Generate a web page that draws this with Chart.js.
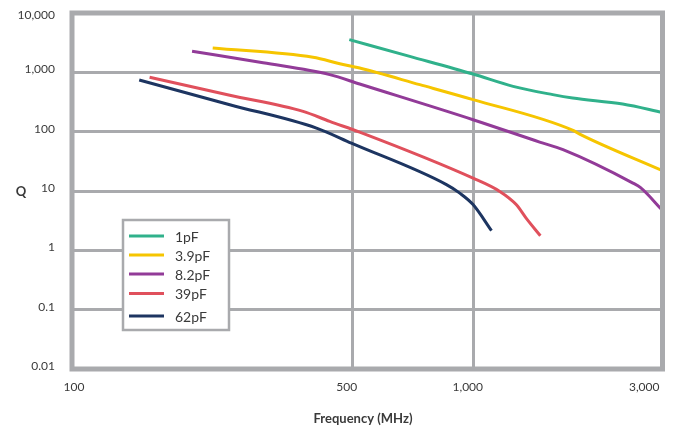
<!DOCTYPE html>
<html>
<head>
<meta charset="utf-8">
<script src="https://cdn.jsdelivr.net/npm/chart.js@4.4.1/dist/chart.umd.min.js"></script>
<style>
  html, body { margin: 0; padding: 0; background: #fff; }
  #wrap { width: 676px; height: 429px; position: relative; }
</style>
</head>
<body>
<div id="wrap"><canvas id="qChart"></canvas></div>
<script>
// Q vs frequency, one pair of arrays per capacitor value
const freq1pF = [490, 693, 996, 1253, 1573, 1763, 2348, 2950];
const q1pF    = [3560, 1860, 936, 580, 421, 369, 292, 211];

const freq3p9pF = [224, 398, 464, 520, 734, 996, 1767, 1835, 2950];
const q3p9pF    = [2570, 1790, 1400, 1180, 620, 347, 105, 91, 22];

const freq8p2pF = [199, 299, 438, 520, 996, 1459, 1668, 2490, 2597, 2950];
const q8p2pF    = [2260, 1450, 915, 635, 159, 66.8, 49.7, 13.6, 11.5, 4.7];

const freq39pF = [156, 247, 376, 438, 520, 996, 1161, 1277, 1350, 1465];
const q39pF    = [824, 412, 220, 149, 98.5, 16.5, 9.85, 5.87, 3.5, 1.76];

const freq62pF = [147, 247, 406, 496, 855, 923, 996, 1107];
const q62pF    = [741, 285, 115, 64, 12.8, 9.2, 5.9, 2.14];

const seriesLabels = ['1pF', '3.9pF', '8.2pF', '39pF', '62pF'];
const seriesColors = ['#30b18b', '#f6c500', '#923b98', '#e0505c', '#1d3561'];

// axis ticks
const xMin = 100, xMax = 2950;
const xGridValues = [500, 1000];
const xTickValues = [100, 500, 1000, 3000];
const xTickLabels = ['100', '500', '1,000', '3,000'];
const yTickValues = [0.01, 0.1, 1, 10, 100, 1000, 10000];
const yTickLabels = ['0.01', '0.1', '1', '10', '100', '1,000', '10,000'];

const GRID = '#a9aaad';
const TEXT = '#3a3a3a';
const FONT = 'Lato, "Open Sans", sans-serif';

function toPoints(xs, ys) {
    return xs.map((x, i) => ({ x: x, y: ys[i] }));
}

const seriesData = [
    toPoints(freq1pF, q1pF),
    toPoints(freq3p9pF, q3p9pF),
    toPoints(freq8p2pF, q8p2pF),
    toPoints(freq39pF, q39pF),
    toPoints(freq62pF, q62pF)
];

// frame, tick labels, axis titles and the boxed legend
const decorPlugin = {
    id: 'decor',
    afterDraw(chart) {
        const ctx = chart.ctx;
        const area = chart.chartArea;
        const xs = chart.scales.x;
        const ys = chart.scales.y;

        ctx.save();
        // thick frame
        ctx.strokeStyle = GRID;
        ctx.lineWidth = 5;
        ctx.strokeRect(area.left, area.top, area.right - area.left, area.bottom - area.top);

        // y tick labels
        ctx.fillStyle = TEXT;
        ctx.font = '12px ' + FONT;
        ctx.textAlign = 'right';
        ctx.textBaseline = 'middle';
        yTickValues.forEach((v, i) => {
            const py = ys.getPixelForValue(v);
            ctx.fillText(yTickLabels[i], 55, Math.max(py - 3, 15));
        });

        // x tick labels
        xTickValues.forEach((v, i) => {
            let px = xs.getPixelForValue(Math.min(v, xMax));
            if (i === 0) {
                ctx.textAlign = 'center';
                px += 2;
            } else if (i === xTickValues.length - 1) {
                ctx.textAlign = 'right';
                px = area.right - 3;
            } else {
                ctx.textAlign = 'center';
                px -= 6;
            }
            ctx.fillText(xTickLabels[i], px, 387);
        });

        // axis titles
        ctx.font = 'bold 13px ' + FONT;
        ctx.textAlign = 'center';
        ctx.fillText('Frequency (MHz)', 363, 419);
        ctx.fillText('Q', 21, 192);

        // legend box
        const lx = 123, ly = 220, lw = 106, lh = 110;
        ctx.fillStyle = '#fff';
        ctx.fillRect(lx, ly, lw, lh);
        ctx.strokeStyle = GRID;
        ctx.lineWidth = 2.5;
        ctx.strokeRect(lx, ly, lw, lh);

        const rows = [236, 255, 274, 293.5, 316];
        ctx.font = '14px ' + FONT;
        ctx.textAlign = 'left';
        chart.data.datasets.forEach((ds, i) => {
            ctx.strokeStyle = ds.borderColor;
            ctx.lineWidth = 3;
            ctx.beginPath();
            ctx.moveTo(129, rows[i]);
            ctx.lineTo(164, rows[i]);
            ctx.stroke();
            ctx.fillStyle = TEXT;
            ctx.fillText(ds.label, 175, rows[i] + 1);
        });
        ctx.restore();
    }
};

new Chart(document.getElementById('qChart'), {
    type: 'line',
    data: {
        datasets: seriesData.map((pts, i) => ({
            label: seriesLabels[i],
            data: pts,
            borderColor: seriesColors[i],
            backgroundColor: seriesColors[i],
            borderWidth: 3,
            pointRadius: 0,
            cubicInterpolationMode: 'monotone',
            fill: false
        }))
    },
    options: {
        responsive: true,
        maintainAspectRatio: false,
        animation: false,
        layout: {
            padding: { left: 72, right: 13.5, top: 13, bottom: 60 }
        },
        scales: {
            x: {
                type: 'logarithmic',
                min: xMin,
                max: xMax,
                afterBuildTicks: (scale) => {
                    scale.ticks = xGridValues.map(v => ({ value: v }));
                },
                ticks: { display: false },
                grid: { color: GRID, lineWidth: 3, drawTicks: false },
                border: { display: false }
            },
            y: {
                type: 'logarithmic',
                min: 0.01,
                max: 10000,
                afterBuildTicks: (scale) => {
                    scale.ticks = yTickValues.map(v => ({ value: v }));
                },
                ticks: { display: false },
                grid: { color: GRID, lineWidth: 3, drawTicks: false },
                border: { display: false }
            }
        },
        plugins: {
            legend: { display: false },
            tooltip: { enabled: false }
        }
    },
    plugins: [decorPlugin]
});
</script>
</body>
</html>
